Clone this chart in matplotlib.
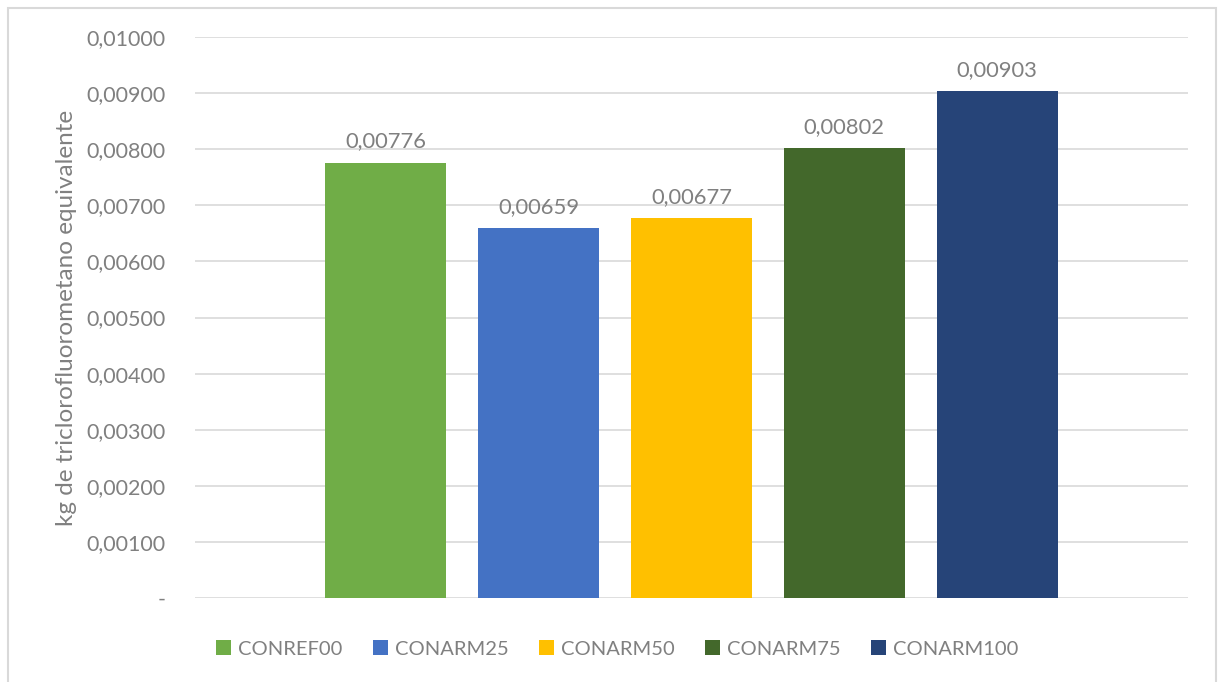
import matplotlib
matplotlib.use('Agg')
import matplotlib.pyplot as plt
from matplotlib.patches import Patch, Rectangle
import numpy as np

plt.rcParams['font.family'] = ['Lato', 'DejaVu Sans']

# data
series = ['CONREF00', 'CONARM25', 'CONARM50', 'CONARM75', 'CONARM100']
values = [0.00776, 0.00659, 0.00677, 0.00802, 0.00903]
value_labels = ['0,00776', '0,00659', '0,00677', '0,00802', '0,00903']
colors = ['#70AD47', '#4472C4', '#FFC000', '#43682B', '#264478']
yticks = [0, 0.001, 0.002, 0.003, 0.004, 0.005, 0.006, 0.007, 0.008, 0.009, 0.010]
ytick_labels = ['-', '0,00100', '0,00200', '0,00300', '0,00400', '0,00500',
                '0,00600', '0,00700', '0,00800', '0,00900', '0,01000']
ylabel = 'kg de triclorofluorometano equivalente'

txt = '#808080'
grid = '#D9D9D9'

fig = plt.figure(figsize=(12.18, 6.82), dpi=100)
ax = fig.add_axes([195/1218, 1-598/682, (1188-195)/1218, (598-37)/682])

x = np.arange(len(series))
bars = ax.bar(x, values, width=0.792, color=colors, zorder=3)
for xi, v, lab in zip(x, values, value_labels):
    ax.annotate(lab, (xi, v), xytext=(0, 8), textcoords='offset points',
                ha='center', va='bottom', fontsize=15.8, color=txt)

ax.set_xlim(-1.25, 5.25)
ax.set_ylim(0, 0.010)
ax.set_yticks(yticks)
ax.set_yticklabels(ytick_labels)
ax.set_xticks([])
ax.tick_params(axis='y', length=0, pad=21.5, labelsize=15.5, labelcolor=txt)
for s in ax.spines.values():
    s.set_visible(False)
ax.grid(axis='y', color=grid, linewidth=1.2, zorder=0)
ax.yaxis.set_label_coords(-128/993, 0.49)
ax.set_ylabel(ylabel, fontsize=17.5, color=txt, va='center')

handles = [Patch(facecolor=c, label=s) for c, s in zip(colors, series)]
fig.legend(handles=handles, loc='center', bbox_to_anchor=(617/1218, 1-649/682),
           ncol=5, frameon=False, fontsize=14.5, labelcolor=txt,
           handlelength=0.75, handleheight=0.75, handletextpad=0.35, columnspacing=1.5)

# outer chart frame
fig.patches.append(Rectangle((8/1218, -0.05), (1216-8)/1218, 1.05-8/682,
                             transform=fig.transFigure, fill=False,
                             edgecolor=grid, linewidth=1.5, clip_on=False))

fig.savefig('out.png', dpi=100)
